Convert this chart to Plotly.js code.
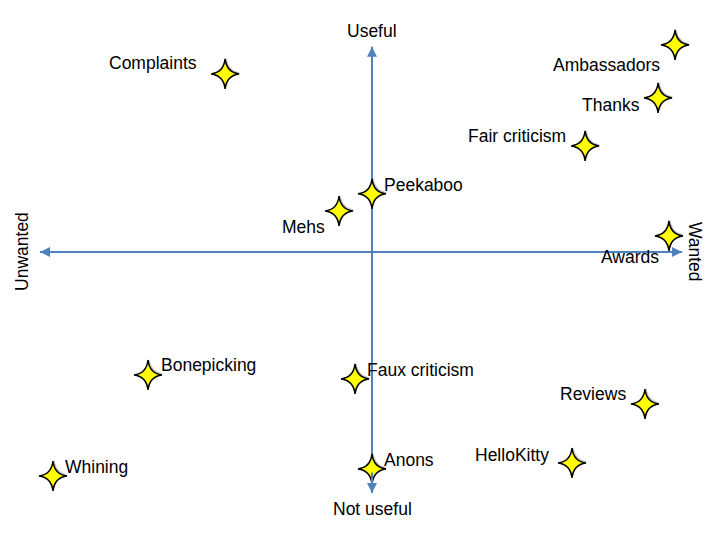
<!DOCTYPE html>
<html>
<head>
<meta charset="utf-8">
<script src="https://cdn.plot.ly/plotly-3.0.1.min.js"></script>
<style>html,body{margin:0;padding:0;background:#fff;}#chart{width:720px;height:540px;}</style>
</head>
<body>
<div id="chart"></div>
<script>
// Items and their positions (x: wanted(+) / unwanted(-), y: useful(+) / not useful(-))
const names = ["Ambassadors","Thanks","Fair criticism","Complaints","Peekaboo","Mehs","Awards",
               "Bonepicking","Faux criticism","Reviews","HelloKitty","Whining","Anons"];
const xVals = [9.47, 8.94, 6.66, -4.59, 0.0, -1.03, 9.28, -7.0, -0.53, 8.53, 6.25, -9.97, 0.0];
const yVals = [9.41, 7.0, 4.82, 8.09, 2.64, 1.86, 0.73, -5.59, -5.77, -6.91, -9.59, -10.18, -9.86];

// Axis labels
const axisLabels = {top: "Useful", bottom: "Not useful", left: "Unwanted", right: "Wanted"};
// Axis arrow extents
const hAxisX = [-10.375, 9.69];
const vAxisY = [-10.95, 9.32];

// label placement (side, xshift, yshift) - styling only
const labelPlace = [
  ["right",-13,-20],["right",-16,-7],["right",-17,10],["right",-26,11],["left",10,9],
  ["right",-12,-16],["right",-8,-21],["left",11,10],["left",10,9],["right",-17,10],
  ["right",-21,8],["left",10,9],["left",10,9]
];

const axisColor = "#4f81bd";
const fontFam = "Liberation Sans, Arial, sans-serif";

// four-point star outline in pixel offsets (style)
const starPath = "M -14,0 Q -1.5,-1.5 0,-15 Q 1.5,-1.5 14,0 Q 1.5,1.5 0,15 Q -1.5,1.5 -14,0 Z";
const shadowPath = "M -12.5,1.5 Q 0,0 1.5,-13.5 Q 3,0 15.5,1.5 Q 3,3 1.5,16.5 Q 0,3 -12.5,1.5 Z";

const traces = [
  {x: hAxisX, y: [0,0], mode: "lines", line: {color: axisColor, width: 2}, hoverinfo: "skip", showlegend: false},
  {x: [0,0], y: vAxisY, mode: "lines", line: {color: axisColor, width: 2}, hoverinfo: "skip", showlegend: false},
  {x: xVals, y: yVals, text: names, mode: "markers", showlegend: false, hoverinfo: "text",
   marker: {size: 1, color: "rgba(0,0,0,0)"}}
];

const shapes = [];
names.forEach((n, i) => {
  shapes.push({type: "path", layer: "above", xref: "x", yref: "y", xsizemode: "pixel", ysizemode: "pixel",
    xanchor: xVals[i], yanchor: yVals[i], path: shadowPath, fillcolor: "rgba(0,0,0,0.25)", line: {width: 0}});
  shapes.push({type: "path", layer: "above", xref: "x", yref: "y", xsizemode: "pixel", ysizemode: "pixel",
    xanchor: xVals[i], yanchor: yVals[i], path: starPath, fillcolor: "#ffff00", line: {color: "#000000", width: 1.5}});
});

const ann = [];
names.forEach((n, i) => {
  const p = labelPlace[i];
  ann.push({x: xVals[i], y: yVals[i], xref: "x", yref: "y", text: n, showarrow: false,
    xanchor: p[0], yanchor: "middle", xshift: p[1], yshift: p[2],
    font: {family: fontFam, size: 17.5, color: "#000"}});
});
// arrowheads at axis ends
const aw = {showarrow: true, arrowhead: 2, arrowsize: 1, arrowwidth: 2, arrowcolor: axisColor, text: "",
            xref: "x", yref: "y", axref: "x", ayref: "y"};
ann.push(Object.assign({}, aw, {x: hAxisX[0], y: 0, ax: hAxisX[0] + 1, ay: 0}));
ann.push(Object.assign({}, aw, {x: hAxisX[1], y: 0, ax: hAxisX[1] - 1, ay: 0}));
ann.push(Object.assign({}, aw, {x: 0, y: vAxisY[0], ax: 0, ay: vAxisY[0] + 1}));
ann.push(Object.assign({}, aw, {x: 0, y: vAxisY[1], ax: 0, ay: vAxisY[1] - 1}));
// axis labels
const lf = {family: fontFam, size: 17.5, color: "#000"};
ann.push({x: 0, y: vAxisY[1], xref: "x", yref: "y", text: axisLabels.top, showarrow: false, yanchor: "bottom", yshift: 4, font: lf});
ann.push({x: 0, y: vAxisY[0], xref: "x", yref: "y", text: axisLabels.bottom, showarrow: false, yanchor: "top", yshift: -4, font: lf});
ann.push({x: hAxisX[0], y: 0, xref: "x", yref: "y", text: axisLabels.left, showarrow: false, textangle: -90, xanchor: "right", xshift: -6, font: lf});
ann.push({x: hAxisX[1], y: 0, xref: "x", yref: "y", text: axisLabels.right, showarrow: false, textangle: 90, xanchor: "left", xshift: 1, font: lf});

const layout = {
  width: 720, height: 540,
  margin: {l: 0, r: 0, t: 0, b: 0},
  paper_bgcolor: "#ffffff", plot_bgcolor: "#ffffff",
  xaxis: {range: [-11.625, 10.875], visible: false, fixedrange: true},
  yaxis: {range: [-13.09, 11.45], visible: false, fixedrange: true},
  annotations: ann,
  shapes: shapes,
  showlegend: false
};
Plotly.newPlot("chart", traces, layout, {displayModeBar: false, staticPlot: true});
</script>
</body>
</html>
